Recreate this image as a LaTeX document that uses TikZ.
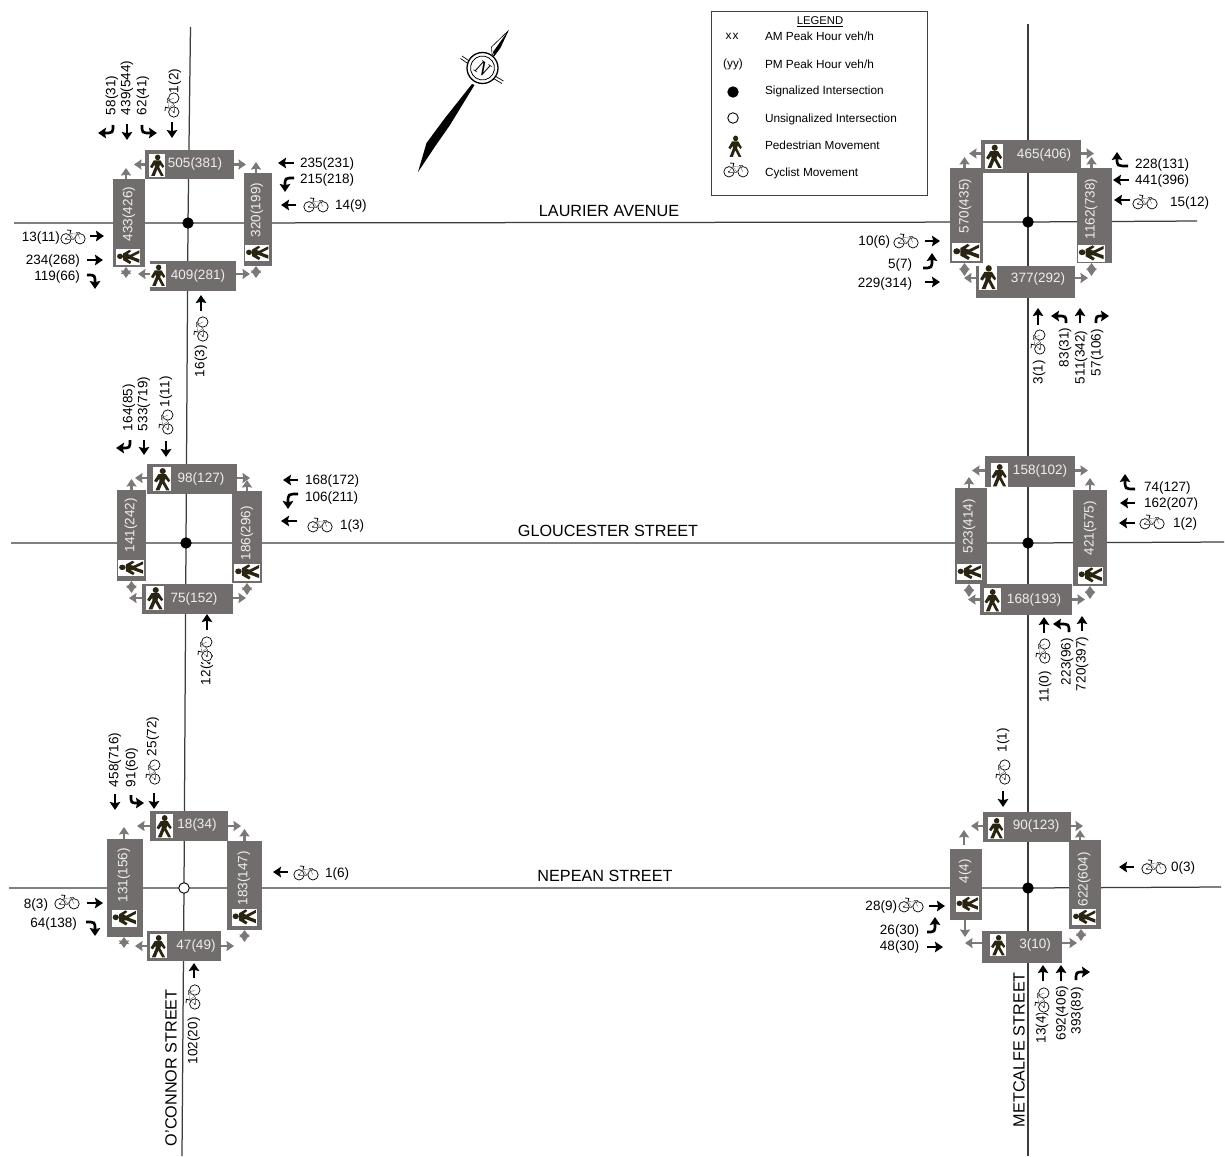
\documentclass[tikz,border=0pt]{standalone}
\usepackage{fontspec}
\setmainfont{Liberation Sans}
\newfontfamily\serifN{Liberation Serif}
\usetikzlibrary{arrows.meta,calc}
\definecolor{boxgrey}{HTML}{716D6C}
\definecolor{arrowgrey}{HTML}{7C7877}
\definecolor{roadcol}{HTML}{3C3C3C}
\definecolor{boxtext}{HTML}{EEEEEE}
\definecolor{pedcol}{HTML}{2A2412}
\newcounter{nn}
\newcommand{\nid}{n\arabic{nn}}
\tikzset{
 lab/.style={inner sep=0pt,outer sep=0pt,font=\fontsize{13.5}{15}\selectfont},
 hshift/.style={yshift=-1pt},
 vshift/.style={xshift=1pt},
 legtxt/.style={inner sep=0pt,outer sep=0pt,font=\fontsize{11.8}{13}\selectfont,anchor=west},
 street/.style={inner sep=0pt,outer sep=0pt,font=\fontsize{16.2}{18}\selectfont},
 boxlab/.style={lab,text=boxtext},
 gbox/.style={fill=boxgrey,draw=none,inner sep=0pt,outer sep=0pt},
 garr/.style={draw=arrowgrey,line width=2.5pt,-{Stealth[inset=.8pt,length=7.5pt,width=10pt]}},
 gdbl/.style={draw=arrowgrey,line width=2.5pt,{Stealth[inset=.8pt,length=7pt,width=10pt]}-{Stealth[inset=.8pt,length=7.5pt,width=10pt]}},
 barr/.style={draw=black,line width=2.7pt,-{Stealth[inset=1.2pt,length=8pt,width=10.5pt]}},
 dotS/.style={circle,draw=black,fill=black,inner sep=0pt,minimum size=10.5pt,line width=.8pt},
 dotU/.style={circle,draw=black,fill=white,inner sep=0pt,minimum size=10.5pt,line width=.9pt},
 roadline/.style={draw=roadcol,line width=1.25pt}
}
% grey box from corners
\newcommand{\gbx}[5]{%
 \pgfmathsetmacro{\cxx}{(#2+#4)/2}\pgfmathsetmacro{\cyy}{(#3+#5)/2}%
 \pgfmathsetmacro{\ww}{#4-#2}\pgfmathsetmacro{\hh}{#5-#3}%
 \node[gbox,minimum width=\ww pt,minimum height=\hh pt] (#1) at (\cxx,\cyy) {};}
% box text: horizontal, vertical
\newcommand{\bhz}[3]{\stepcounter{nn}\node[boxlab,hshift] (\nid) at (#1,#2) {#3};}
\newcommand{\bvt}[3]{\stepcounter{nn}\node[boxlab,rotate=90,vshift] (\nid) at (#1,#2) {#3};}
% labels: rotated from bottom end, left-anchored, right-anchored
\newcommand{\rotl}[3]{\stepcounter{nn}\node[lab,rotate=90,anchor=west,vshift] (\nid) at (#1,#2) {#3};}
\newcommand{\lftl}[3]{\stepcounter{nn}\node[lab,anchor=west,hshift] (\nid) at (#1,#2) {#3};}
\newcommand{\rgtl}[3]{\stepcounter{nn}\node[lab,anchor=east,hshift] (\nid) at (#1,#2) {#3};}
% grey arrows leaving a box: anchor, shift, run
\newcommand{\gar}[5]{\draw[garr] ([shift={(#2,#3)}]#1) -- ++(#4,#5);}
\newcommand{\gdb}[5]{\draw[gdbl] ([shift={(#2,#3)}]#1) -- ++(#4,#5);}
% black arrows
\newcommand{\bka}[4]{\draw[barr] (#1,#2) -- (#3,#4);}
\newcommand{\trn}[6]{\draw[barr] (#1,#2) .. controls (#3,#4) .. (#5,#6);}
% pedestrian icon (upright width, height, rotation)
\newcommand{\ped}[5]{%
 \begin{scope}[shift={(#1,#2)},rotate=#5,xscale=#3,yscale=#4,x=1pt,y=1pt]
 \fill[white] (-.5,-.5) rectangle (.5,.5);
 \fill[pedcol] (.04,.33) ellipse [x radius=.17,y radius=.125];
 \fill[pedcol] (-.2,.2) -- (.22,.2) -- (.45,-.06) -- (.36,-.13) -- (.18,.02) -- (.14,-.1) -- (.42,-.47) -- (.24,-.47) -- (.02,-.18) -- (-.14,-.47) -- (-.36,-.47) -- (-.14,-.1) -- (-.14,.02) -- (-.3,-.14) -- (-.44,-.08) -- cycle;
 \end{scope}}
% bicycle icon
\newcommand{\bike}[3]{%
 \begin{scope}[shift={(#1,#2)},rotate=#3,x=1pt,y=1pt]
 \fill[white] (-12.5,-7) rectangle (12.5,7.5);
 \draw[line width=.7pt] (-7,-1.8) circle (5.2);
 \draw[line width=.7pt] (7,-1.8) circle (5.2);
 \fill (-7,-1.8) circle (1);
 \draw[line width=.4pt,black!55] (-7,-1.8) -- (-3,3.5) -- (4.5,3) -- (7,-1.8);
 \draw[line width=.4pt,black!55] (-3,3.5) -- (.5,-1.8) -- (4.5,3);
 \draw[line width=.4pt,black!55] (-7,-1.8) -- (.5,-1.8);
 \draw[line width=.8pt] (-3,3.5) -- (-2.2,6.6) -- (-6,7);
 \draw[line width=.7pt,black!65] (2.5,5) -- (7,5);
 \draw[line width=.4pt,black!55] (4.5,3) -- (4.5,5);
 \end{scope}}
\begin{document}
\begin{tikzpicture}[x=1pt,y=-1pt]
\useasboundingbox (0,0) rectangle (1225,1156);
\fill[white] (0,0) rectangle (1225,1156);
% junctions and road ends
\coordinate (jTL) at (188,223);
\coordinate (jML) at (186,543);
\coordinate (jBL) at (184,888);
\coordinate (jTR) at (1028,222);
\coordinate (jMR) at (1028,543);
\coordinate (jBR) at (1028,888);
\coordinate (oN) at (190.5,27);
\coordinate (oS) at (182,1156);
\coordinate (mN) at (1028,24);
\coordinate (mS) at (1028,1156);
\coordinate (lW) at (14,223);
\coordinate (lE) at (1197,221);
\coordinate (gW) at (11,543);
\coordinate (gE) at (1224,542);
\coordinate (nW) at (9,888);
\coordinate (nE) at (1221,887);
\draw[roadline] (oN) -- (jTL) -- (jML) -- (jBL) -- (oS);
\draw[roadline] (mN) -- (jTR) -- (jMR) -- (jBR) -- (mS);
\draw[roadline] (lW) -- (jTL) -- (jTR) -- (lE);
\draw[roadline] (gW) -- (jML) -- (jMR) -- (gE);
\draw[roadline] (nW) -- (jBL) -- (jBR) -- (nE);
\node[dotS] (dTL) at (jTL) {};
\node[dotS] (dML) at (jML) {};
\node[dotU] (dBL) at (jBL) {};
\node[dotS] (dTR) at (jTR) {};
\node[dotS] (dMR) at (jMR) {};
\node[dotS] (dBR) at (jBR) {};
% street names
\node[street] (sLaurier) at (609,211) {LAURIER AVENUE};
\node[street] (sGlouc) at (608,531) {GLOUCESTER STREET};
\node[street] (sNepean) at (605,876) {NEPEAN STREET};
\node[street,rotate=90,anchor=west] (sOConnor) at (171,1146) {O'CONNOR STREET};
\node[street,rotate=90,anchor=west] (sMetcalfe) at (1019,1127) {METCALFE STREET};
%
% ===== top-left =====
\gbx{tlT}{145}{150}{234}{179}\gbx{tlL}{113}{179}{145}{267}\gbx{tlR}{244}{173}{272}{266}\gbx{tlB}{150}{261}{236}{291}
\ped{157}{165}{16}{23}{0}\ped{128}{257}{16}{24}{90}\ped{257}{253}{16}{24}{90}\ped{158}{275}{16}{23}{0}
\bhz{195}{163}{505(381)}\bvt{129}{215}{433(426)}\bvt{257}{211}{320(199)}\bhz{198}{275}{409(281)}
\gar{tlT.west}{0}{0}{-11}{0}\gar{tlT.east}{0}{0}{12}{0}\gar{tlL.north}{-3}{0}{0}{-11}\gar{tlR.north}{-2}{0}{0}{-11}
\gdb{tlL.south}{-3}{0}{0}{11}\gdb{tlR.south}{-2}{0}{0}{12}\gar{tlB.west}{0}{-2}{-12}{0}\gar{tlB.east}{0}{-2}{14}{0}
\trn{113}{125}{113}{133}{98}{133}\bka{127}{124}{127}{140}\trn{142}{125}{142}{133}{157}{133}\bka{172}{122}{172}{138}
\bike{172}{105}{90}
\rotl{112}{116}{58(31)}\rotl{127}{116}{439(544)}\rotl{143}{116}{62(41)}\rotl{175}{94}{1(2)}
\bka{294}{163}{278}{163}\trn{294}{178}{285}{178}{285}{192}\bka{296}{205}{281}{205}
\bike{316}{205}{0}
\lftl{300}{163}{235(231)}\lftl{300}{179}{215(218)}\lftl{335}{205}{14(9)}
\bka{90}{236}{104}{236}\bka{87}{260}{103}{260}\trn{87}{275}{95}{275}{95}{289}
\bike{73}{237}{0}
\rgtl{60}{237}{13(11)}\rgtl{80}{260}{234(268)}\rgtl{80}{276}{119(66)}
\bka{201}{311}{201}{295}
\bike{201}{329}{90}
\rotl{201}{378}{16(3)}
%
% ===== top-right =====
\gbx{trT}{981}{140}{1081}{173}\gbx{trL}{950}{168}{983}{263}\gbx{trR}{1077}{168}{1112}{263}\gbx{trB}{976}{266}{1075}{298}
\ped{994}{156}{18}{25}{0}\ped{966}{252}{18}{28}{90}\ped{1091}{253}{17}{27}{90}\ped{988}{277}{18}{26}{0}
\bhz{1044}{154}{465(406)}\bvt{965}{207}{570(435)}\bvt{1091}{210}{1162(738)}\bhz{1038}{278}{377(292)}
\gar{trT.west}{0}{-3}{-12}{0}\gar{trT.east}{0}{-3}{13}{0}\gar{trL.north}{-2}{0}{0}{-11}\gar{trR.north}{-3}{0}{0}{-11}
\gdb{trL.south}{-2}{0}{0}{13}\gdb{trR.south}{-3}{0}{0}{13}\gar{trB.west}{0}{-4}{-12}{0}\gar{trB.east}{0}{-4}{13}{0}
\trn{1128}{166}{1117}{166}{1117}{152}\bka{1129}{180}{1113}{180}\bka{1130}{200}{1114}{200}
\bike{1145}{202}{0}
\lftl{1135}{164}{228(131)}\lftl{1135}{180}{441(396)}\lftl{1170}{202}{15(12)}
\bka{925}{241}{940}{241}\trn{923}{268}{932}{268}{932}{253}\bka{925}{282}{940}{282}
\bike{906}{241}{0}
\rgtl{890}{241}{10(6)}\rgtl{912}{264}{5(7)}\rgtl{912}{283}{229(314)}
\bka{1038}{325}{1038}{308}\trn{1066}{323}{1066}{316}{1051}{316}\bka{1080}{323}{1080}{308}\trn{1096}{323}{1096}{316}{1109}{316}
\bike{1038}{342}{90}
\rotl{1039}{385}{3(1)}\rotl{1065}{368}{83(31)}\rotl{1081}{385}{511(342)}\rotl{1097}{377}{57(106)}
%
% ===== middle-left =====
\gbx{mlT}{147}{464}{237}{494}\gbx{mlL}{117}{490}{146}{581}\gbx{mlR}{232}{491}{262}{583}\gbx{mlB}{142}{584}{233}{614}
\ped{162}{479}{18}{24}{0}\ped{131}{568}{16}{26}{90}\ped{247}{572}{17}{26}{90}\ped{155}{598}{18}{24}{0}
\bhz{201}{478}{98(127)}\bvt{131}{526}{141(242)}\bvt{247}{534}{186(296)}\bhz{194}{598}{75(152)}
\gar{mlT.west}{0}{-1}{-12}{0}\gar{mlT.east}{0}{-1}{13}{0}\gar{mlL.north}{0}{0}{0}{-11}\gar{mlR.north}{0}{0}{0}{-11}
\gdb{mlL.south}{0}{0}{0}{12}\gdb{mlR.south}{0}{0}{0}{12}\gar{mlB.west}{0}{-1}{-13}{0}\gar{mlB.east}{0}{-1}{13}{0}
\trn{130}{440}{130}{448}{116}{448}\bka{144}{440}{144}{455}\bka{166}{441}{166}{457}
\bike{166}{422}{90}
\rotl{129}{432}{164(85)}\rotl{144}{432}{533(719)}\rotl{166}{408}{1(11)}
\bka{298}{480}{283}{480}\trn{298}{494}{288}{494}{288}{509}\bka{297}{521}{281}{521}
\bike{320}{525}{0}
\lftl{305}{480}{168(172)}\lftl{305}{497}{106(211)}\lftl{340}{525}{1(3)}
\bka{207}{630}{207}{614}
\rotl{207}{686}{12(2)}
\bike{205}{649}{90}
%
% ===== middle-right =====
\gbx{mrT}{985}{456}{1075}{487}\gbx{mrL}{955}{488}{987}{584}\gbx{mrR}{1073}{490}{1107}{586}\gbx{mrB}{980}{584}{1072}{615}
\ped{999}{475}{17}{24}{0}\ped{969}{572}{16}{25}{90}\ped{1090}{575}{17}{25}{90}\ped{992}{600}{17}{24}{0}
\bhz{1040}{470}{158(102)}\bvt{969}{527}{523(414)}\bvt{1090}{529}{421(575)}\bhz{1034}{599}{168(193)}
\gar{mrT.west}{0}{-1}{-13}{0}\gar{mrT.east}{0}{-1}{13}{0}\gar{mrL.north}{-2}{0}{0}{-11}\gar{mrR.north}{0}{0}{0}{-12}
\gdb{mrL.south}{-2}{0}{0}{13}\gdb{mrR.south}{0}{0}{0}{13}\gar{mrB.west}{0}{0}{-12}{0}\gar{mrB.east}{0}{0}{13}{0}
\trn{1135}{489}{1125}{489}{1125}{474}\bka{1135}{503}{1120}{503}\bka{1135}{523}{1119}{523}
\bike{1152}{522}{0}
\lftl{1144}{487}{74(127)}\lftl{1144}{503}{162(207)}\lftl{1173}{523}{1(2)}
\bka{1044}{633}{1044}{617}\trn{1069}{632}{1069}{624}{1053}{624}\bka{1082}{631}{1082}{616}
\bike{1043}{651}{90}
\rotl{1045}{703}{11(0)}\rotl{1067}{686}{223(96)}\rotl{1082}{692}{720(397)}
%
% ===== bottom-left =====
\gbx{blT}{150}{811}{228}{841}\gbx{blL}{107}{839}{143}{937}\gbx{blR}{227}{841}{262}{930}\gbx{blB}{147}{931}{221}{961}
\ped{164}{826}{17}{24}{0}\ped{124}{918}{17}{25}{90}\ped{244}{917}{17}{25}{90}\ped{158}{946}{17}{24}{0}
\bhz{197}{824}{18(34)}\bvt{124}{876}{131(156)}\bvt{244}{879}{183(147)}\bhz{196}{945}{47(49)}
\gar{blT.west}{0}{0}{-13}{0}\gar{blT.east}{0}{0}{13}{0}\gar{blL.north}{-1}{0}{0}{-12}\gar{blR.north}{0}{0}{0}{-12}
\gdb{blL.south}{-1}{0}{0}{11}\gdb{blR.south}{0}{0}{0}{12}\gar{blB.west}{0}{0}{-12}{0}\gar{blB.east}{0}{0}{13}{0}
\bka{115}{794}{115}{810}\trn{131}{795}{131}{803}{144}{803}\bka{154}{793}{154}{809}
\bike{153}{772}{90}
\rotl{115}{788}{458(716)}\rotl{132}{788}{91(60)}\rotl{153}{757}{25(72)}
\bka{288}{872}{273}{872}
\bike{306}{873}{0}
\lftl{325}{873}{1(6)}
\bka{87}{903}{103}{903}\trn{86}{922}{95}{922}{95}{936}
\bike{67}{902}{0}
\rgtl{48}{904}{8(3)}\rgtl{77}{923}{64(138)}
\bka{194}{978}{194}{963}
\bike{193}{997}{90}
\rotl{194}{1065}{102(20)}
%
% ===== bottom-right =====
\gbx{brT}{983}{812}{1071}{842}\gbx{brL}{950}{849}{982}{920}\gbx{brR}{1069}{840}{1101}{929}\gbx{brB}{982}{931}{1062}{963}
\ped{996}{828}{16}{22}{0}\ped{967}{904}{16}{23}{90}\ped{1084}{917}{16}{24}{90}\ped{998}{945}{16}{22}{0}
\bhz{1036}{825}{90(123)}\bvt{965}{872}{4(4)}\bvt{1084}{880}{622(604)}\bhz{1035}{944}{3(10)}
\gar{brT.west}{0}{-1}{-12}{0}\gar{brT.east}{0}{-1}{12}{0}\gar{brL.north}{-2}{-4}{0}{-15}\gar{brR.north}{-5}{0}{0}{-10}
\gar{brL.south}{-1}{0}{0}{17}\gdb{brR.south}{-4}{0}{0}{12}\gar{brB.west}{0}{-4}{-17}{0}\gar{brB.east}{0}{-4}{15}{0}
\bka{1003}{791}{1003}{807}
\bike{1003}{772}{90}
\rotl{1003}{753}{1(1)}
\bka{1134}{867}{1119}{867}
\bike{1154}{867}{0}
\lftl{1171}{867}{0(3)}
\bka{929}{906}{945}{906}\trn{927}{932}{935}{932}{935}{917}\bka{927}{947}{943}{947}
\bike{911}{905}{0}
\rgtl{897}{906}{28(9)}\rgtl{919}{930}{26(30)}\rgtl{919}{946}{48(30)}
\bka{1043}{981}{1043}{965}\bka{1061}{981}{1061}{965}\trn{1076}{980}{1076}{972}{1090}{972}
\rotl{1042}{1044}{13(4)}
\bike{1042}{1000}{90}
\rotl{1062}{1041}{692(406)}\rotl{1077}{1035}{393(89)}
%
% ===== compass =====
\fill (418,172) -- (426.5,143) -- (445,118) -- (472,84) -- (474.5,85) -- (450,125) -- (434,148) -- cycle;
\draw[line width=.6pt,fill=white] (508,31) -- (491.5,47) -- (492,54) -- (494,56) -- (500,48) -- cycle;
\fill (508,31) -- (493,52) -- (494,56) -- (500,48) -- cycle;
\draw[line width=.7pt] (462,56) -- (470,61.5);
\draw[line width=.7pt] (460.5,58.5) -- (468.5,64);
\draw[line width=.7pt] (495,76) -- (503.5,81);
\draw[line width=.7pt] (493.5,78.5) -- (502,83.5);
\node[circle,draw=black,fill=white,line width=1.3pt,minimum size=31pt,inner sep=0pt] (compOut) at (482.5,68) {};
\node[circle,draw=black,fill=white,line width=.8pt,minimum size=24pt,inner sep=0pt,rotate=-32,font=\serifN\itshape\fontsize{20}{20}\selectfont] (compIn) at (482.5,68) {N};
%
% ===== legend =====
\node[draw=black!75,line width=.8pt,minimum width=216pt,minimum height=184pt,inner sep=0pt] (legbox) at (819,103) {};
\node[inner sep=0pt,font=\fontsize{11.3}{13}\selectfont] (legT) at (820,22) {\underline{LEGEND}};
\node[inner sep=0pt,font=\fontsize{11.8}{13}\selectfont] (legXX) at (732,36) {x\hspace{1pt}x};
\node[inner sep=0pt,font=\fontsize{11.8}{13}\selectfont] (legYY) at (733,64) {(yy)};
\node[dotS] (legS) at (733,92) {};
\node[dotU] (legU) at (733,118) {};
\ped{735}{146}{15}{23}{0}
\bike{736}{170}{0}
\node[legtxt] (leg1) at (765,36) {AM Peak Hour veh/h};
\node[legtxt] (leg2) at (765,64) {PM Peak Hour veh/h};
\node[legtxt] (leg3) at (765,91.5) {Signalized Intersection};
\node[legtxt] (leg4) at (765,119) {Unsignalized Intersection};
\node[legtxt] (leg5) at (765,145) {Pedestrian Movement};
\node[legtxt] (leg6) at (765,173) {Cyclist Movement};
\end{tikzpicture}
\end{document}
